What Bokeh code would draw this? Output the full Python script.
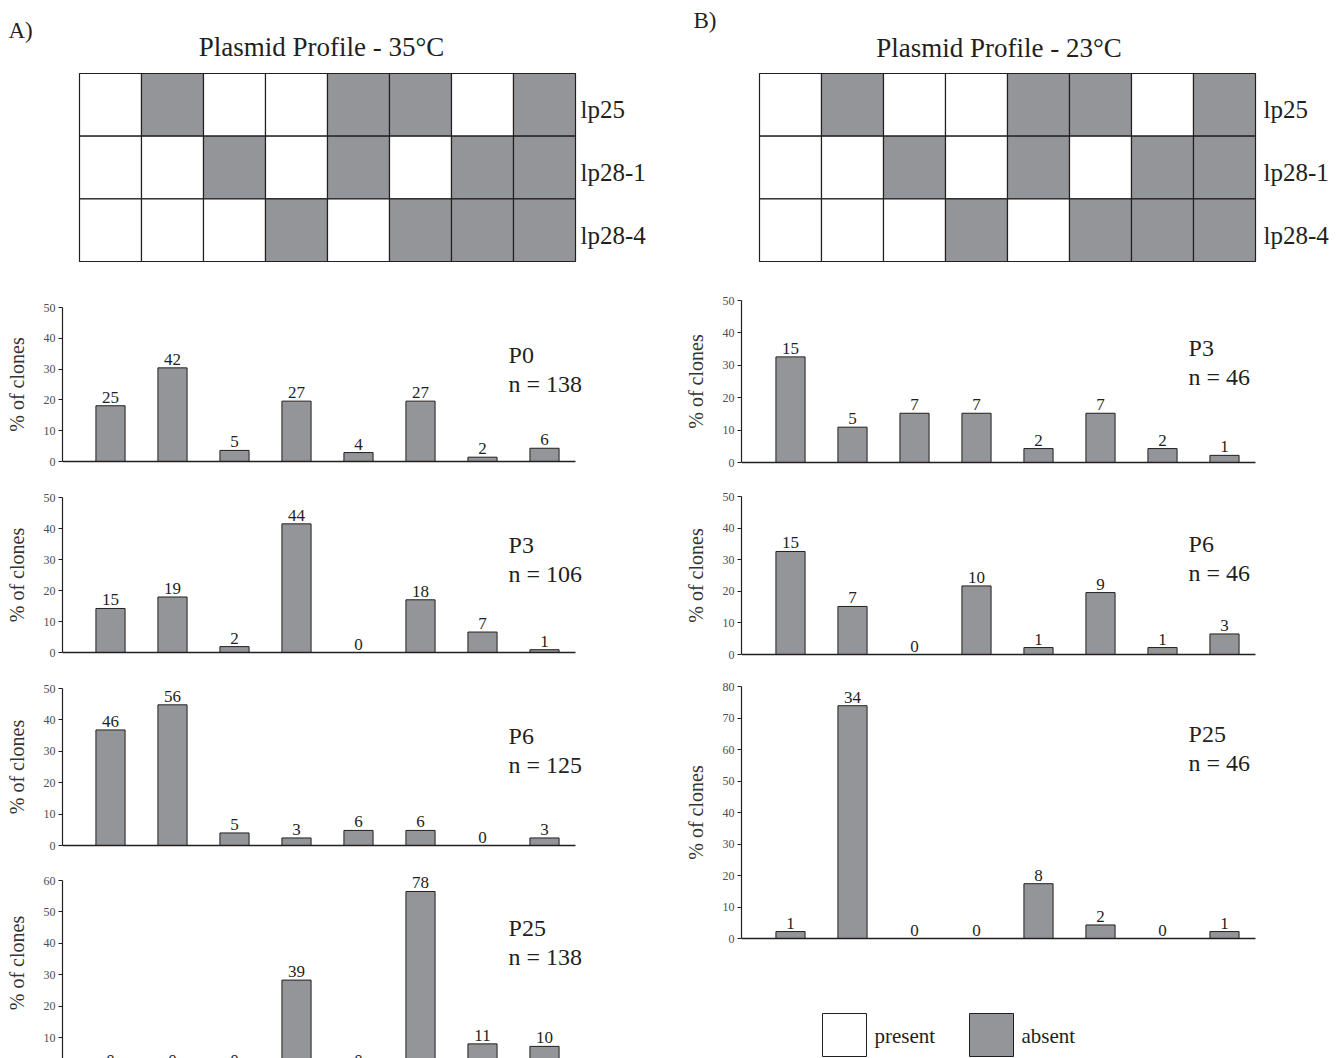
from bokeh.plotting import figure
from bokeh.layouts import column, row
from bokeh.models import Range1d, FixedTicker, Label, LabelSet, ColumnDataSource
from bokeh.core.properties import value
from bokeh.embed import file_html
from bokeh.resources import INLINE

FONT = "Liberation Serif"
FILL = "#939598"
INK = "#231f20"
TICK_INK = "#4d4d4f"

# ---------------- data ----------------
plasmids = ["lp25", "lp28-1", "lp28-4"]
# 1 = absent, 0 = present, for the 8 plasmid profiles (columns)
absent_lp25 = [0, 1, 0, 0, 1, 1, 0, 1]
absent_lp28_1 = [0, 0, 1, 0, 1, 0, 1, 1]
absent_lp28_4 = [0, 0, 0, 1, 0, 1, 1, 1]
profiles = [absent_lp25, absent_lp28_1, absent_lp28_4]

# 35 °C
t35_title = "Plasmid Profile - 35°C"
t35_passages = ["P0", "P3", "P6", "P25"]
t35_n = [138, 106, 125, 138]
t35_counts = [
    [25, 42, 5, 27, 4, 27, 2, 6],
    [15, 19, 2, 44, 0, 18, 7, 1],
    [46, 56, 5, 3, 6, 6, 0, 3],
    [0, 0, 0, 39, 0, 78, 11, 10],
]
t35_pct = [
    [18.1, 30.4, 3.6, 19.6, 2.9, 19.6, 1.4, 4.3],
    [14.2, 17.9, 1.9, 41.5, 0.0, 17.0, 6.6, 0.9],
    [36.8, 44.8, 4.0, 2.4, 4.8, 4.8, 0.0, 2.4],
    [0.0, 0.0, 0.0, 28.3, 0.0, 56.5, 8.0, 7.2],
]
t35_ymax = [50, 50, 50, 60]

# 23 °C
t23_title = "Plasmid Profile - 23°C"
t23_passages = ["P3", "P6", "P25"]
t23_n = [46, 46, 46]
t23_counts = [
    [15, 5, 7, 7, 2, 7, 2, 1],
    [15, 7, 0, 10, 1, 9, 1, 3],
    [1, 34, 0, 0, 8, 2, 0, 1],
]
t23_pct = [
    [32.6, 10.9, 15.2, 15.2, 4.3, 15.2, 4.3, 2.2],
    [32.6, 15.2, 0.0, 21.7, 2.2, 19.6, 2.2, 6.5],
    [2.2, 73.9, 0.0, 0.0, 17.4, 4.3, 0.0, 2.2],
]
t23_ymax = [50, 50, 80]

legend_labels = ["present", "absent"]
legend_fills = ["white", FILL]

NCOL = 8
COLW = 62.0          # pixels per profile column
ROWH = 62.67         # pixels per plasmid row
GRID_TOP = 73        # pixel y of grid top
GRID_BOT = 261       # pixel y of grid bottom


def clean(p):
    p.xgrid.grid_line_color = None
    p.ygrid.grid_line_color = None
    p.background_fill_color = "white"
    p.border_fill_color = "white"
    p.outline_line_color = None


def header(width, height, border_left, axis_gap, head_top, title, title_dx, title_mid,
           letter, letter_offset, letter_standoff, label_gap):
    # frame spans [border_left, width]; grid starts axis_gap px right of frame left
    xstart = -axis_gap / COLW
    xend = xstart + (width - border_left) / COLW
    nrow = len(plasmids)
    ytop = nrow + (GRID_TOP - head_top) / ROWH
    ybot = -(height - GRID_BOT) / ROWH
    p = figure(width=width, height=height, output_backend="svg", toolbar_location=None,
               x_range=Range1d(xstart, xend), y_range=Range1d(ybot, ytop),
               x_axis_location=None, y_axis_location=None,
               min_border_left=border_left, min_border_right=0,
               min_border_top=head_top, min_border_bottom=0)
    clean(p)
    for r, states in enumerate(profiles):
        yb = nrow - 1 - r
        p.quad(left=[i for i in range(NCOL)], right=[i + 1 for i in range(NCOL)],
               bottom=yb, top=yb + 1,
               fill_color=[FILL if s else "white" for s in states],
               line_color=INK, line_width=1.2)
    p.text(x=[NCOL + label_gap / COLW] * nrow,
           y=[nrow - 0.5 - r - 5 / ROWH for r in range(nrow)],
           text=plasmids, text_font=value(FONT), text_font_size=value("25px"),
           text_color=INK, text_align="left", text_baseline="middle")
    p.text(x=[NCOL / 2 + title_dx / COLW], y=[nrow + (GRID_TOP - title_mid) / ROWH],
           text=[title], text_font=value(FONT), text_font_size=value("27px"),
           text_color=INK, text_align="center", text_baseline="middle")
    p.title.text = letter
    p.title.align = "left"
    p.title.offset = letter_offset
    p.title.standoff = letter_standoff
    p.title.text_font = FONT
    p.title.text_font_size = "23px"
    p.title.text_font_style = "normal"
    p.title.text_color = INK
    return p


def bars(width, height, border_left, axis_gap, top_px, zero_px, ymax,
         pct, counts, passage, n):
    # top_px: pixel (from figure top) of the ymax tick; zero_px: pixel of value 0
    ppu = (zero_px - top_px) / ymax
    ystart = (zero_px - height) / ppu
    yend = ymax + top_px / ppu
    xstart = -axis_gap / COLW
    xend = xstart + (width - border_left) / COLW
    p = figure(width=width, height=height, output_backend="svg", toolbar_location=None,
               x_range=Range1d(xstart, xend), y_range=Range1d(ystart, yend),
               x_axis_location=None,
               min_border_left=border_left, min_border_right=0,
               min_border_top=0, min_border_bottom=0)
    clean(p)
    xs = [i + 0.5 for i in range(len(pct))]
    p.vbar(x=xs, top=pct, bottom=0, width=0.47, fill_color=FILL,
           line_color=INK, line_width=1)
    # baseline (x axis line) from the y axis to the last column
    p.segment(x0=[xstart], y0=[0], x1=[NCOL], y1=[0], line_color=INK, line_width=1.5)
    src = ColumnDataSource(dict(x=xs, y=pct, label=[str(c) for c in counts]))
    p.add_layout(LabelSet(x="x", y="y", text="label", source=src, y_offset=3,
                          text_align="center", text_baseline="bottom",
                          text_font=value(FONT), text_font_size=value("17px"),
                          text_color=INK))
    ya = p.yaxis[0]
    ya.ticker = FixedTicker(ticks=list(range(0, ymax + 1, 10)))
    ya.bounds = (0, ymax)
    ya.axis_line_color = INK
    ya.axis_line_width = 1.2
    ya.major_tick_line_color = INK
    ya.major_tick_out = 4
    ya.major_tick_in = 0
    ya.minor_tick_line_color = None
    ya.major_label_standoff = 3
    ya.major_label_text_font = FONT
    ya.major_label_text_font_size = "12px"
    ya.major_label_text_color = TICK_INK
    ya.axis_label = "% of clones"
    ya.axis_label_text_font = FONT
    ya.axis_label_text_font_size = "20px"
    ya.axis_label_text_font_style = "normal"
    ya.axis_label_text_color = "#333333"
    ya.axis_label_standoff = 13
    for txt, off in ((passage, -47), ("n = %d" % n, -76)):
        p.add_layout(Label(x=6.92, y=ymax, y_offset=off, text=txt, text_font=FONT,
                           text_font_size="24px", text_color=INK,
                           text_baseline="alphabetic"))
    return p


# ---------------- left column (35 °C) ----------------
LW = 681
L_BORDER = 62
L_GAP = 17
left_figs = [header(LW, 285, L_BORDER, L_GAP, 35, t35_title, -6, 47, "A)", -54, -15, 5)]
left_specs = [  # height, ymax tick px, zero px  (from figure top)
    (198, 22, 176),
    (183, 14, 169),
    (201, 22, 179),
    (191, 13, 201.5),
]
for k, (h, tp, zp) in enumerate(left_specs):
    left_figs.append(bars(LW, h, L_BORDER, L_GAP, tp, zp, t35_ymax[k],
                          t35_pct[k], t35_counts[k], t35_passages[k], t35_n[k]))

# ---------------- right column (23 °C) ----------------
RW = 1338 - LW
R_BORDER = 60
R_GAP = 18
right_figs = [header(RW, 280, R_BORDER, R_GAP, 35, t23_title, -8.5, 48, "B)", -48, 6, 8)]
right_specs = [
    (202, 20, 182),
    (186, 14, 172),
    (288, 18, 270),
]
for k, (h, tp, zp) in enumerate(right_specs):
    right_figs.append(bars(RW, h, R_BORDER, R_GAP, tp, zp, t23_ymax[k],
                           t23_pct[k], t23_counts[k], t23_passages[k], t23_n[k]))

# legend
LG_H = 102
lg = figure(width=RW, height=LG_H, output_backend="svg", toolbar_location=None,
            x_range=Range1d(0, RW - R_BORDER), y_range=Range1d(0, LG_H),
            min_border_left=R_BORDER, min_border_right=0, min_border_top=0,
            min_border_bottom=0)
lg.axis.visible = False
clean(lg)
box_left = [81 + 147 * i for i in range(len(legend_labels))]
lg.quad(left=box_left, right=[b + 44 for b in box_left], bottom=2, top=45,
        fill_color=legend_fills, line_color=INK, line_width=1)
lg.text(x=[b + 52 for b in box_left], y=[23] * len(legend_labels), text=legend_labels,
        text_font=value(FONT), text_font_size=value("21px"), text_color=INK,
        text_baseline="middle", text_align="left")
right_figs.append(lg)

layout = row(column(*left_figs, spacing=0), column(*right_figs, spacing=0), spacing=0)

open("out.html", "w").write(file_html(layout, INLINE))
